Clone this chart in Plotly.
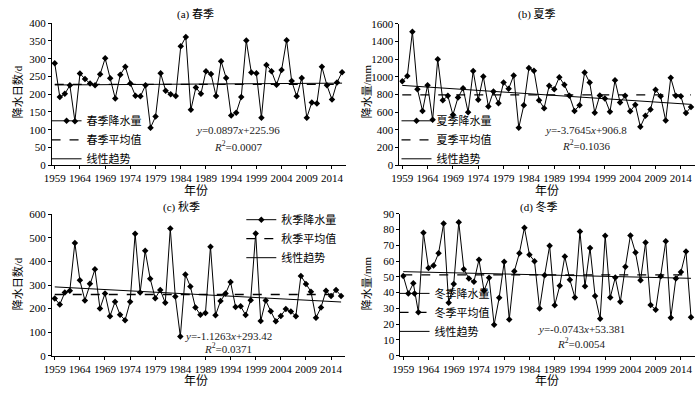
import numpy as np
import plotly.graph_objects as go

years = list(range(1959, 2017))
spring = [287,192,201,225,124,258,243,230,225,256,301,245,188,255,277,230,196,194,225,106,
          137,259,210,200,195,335,361,156,219,201,265,257,195,293,246,140,148,192,351,261,
          259,134,282,265,227,268,352,237,194,246,134,177,174,277,225,185,233,262]
summer = [950,1010,1510,860,614,905,515,1200,735,785,570,765,870,600,1065,740,1005,665,835,700,
          935,865,1015,425,680,1100,1070,735,645,900,860,995,910,785,615,680,1050,935,595,790,
          755,605,960,710,785,610,685,435,560,630,855,780,505,990,785,780,590,660]
autumn = [243,218,268,276,479,320,235,306,367,200,264,168,229,174,151,229,518,268,446,327,
          244,279,225,540,251,82,345,294,205,174,181,463,172,232,264,313,207,210,173,236,
          519,147,235,189,146,169,198,188,168,339,305,272,161,205,276,254,279,254]
winter = [50.6,39.4,45.9,27.5,77.9,55.6,57.2,65,83.8,33.6,45.5,84.7,54.9,49,46.9,60.9,41.2,49.4,19.7,36.7,
          59.5,23,53.5,65,81.2,64,59.9,29.9,51,69.7,32,44.3,62.9,48.2,36.9,78.7,44.1,68.3,37.9,23.4,
          76.1,36.9,49.6,34.2,56.4,76.3,65.4,47.8,71.8,32.2,29.1,50.4,72.6,24,49,53.1,66,24.4]

season_names = ["春季", "夏季", "秋季", "冬季"]
panel_titles = ["(a) 春季", "(b) 夏季", "(c) 秋季", "(d) 冬季"]
slopes = [0.0897, -3.7645, -1.1263, -0.0743]
intercepts = [225.96, 906.8, 293.42, 53.381]
eq_texts = ["<i>y</i>=0.0897<i>x</i>+225.96", "<i>y</i>=-3.7645<i>x</i>+906.8",
            "<i>y</i>=-1.1263<i>x</i>+293.42", "<i>y</i>=-0.0743<i>x</i>+53.381"]
r2_texts = ["<i>R</i><sup>2</sup>=0.0007", "<i>R</i><sup>2</sup>=0.1036",
            "<i>R</i><sup>2</sup>=0.0371", "<i>R</i><sup>2</sup>=0.0054"]
y_titles = ["降水日数/d", "降水量/mm", "降水日数/d", "降水量/mm"]
y_ranges = [[0, 400], [0, 1600], [0, 600], [0, 90]]
y_dticks = [50, 200, 100, 10]
x_ticks = list(range(1959, 2015, 5))

series = [spring, summer, autumn, winter]

W, H = 700, 394
def px(x): return x / W
def py(y): return 1 - y / H

FONT = "Liberation Serif, Noto Sans CJK SC, serif"

# panel geometry in pixel coords (left, right, top, bottom)
boxes = [(44.5, 342, 17.7, 164.3), (396, 695, 18.3, 164.3),
         (44.5, 341, 215, 360.7), (397, 695, 214.3, 360.7)]
legend_pos = [(39, 138), (393, 138), (236, 240), (391, 316)]
eq_pos = [(233, 128, 144), (585, 128, 143), (223, 340, 353), (580, 333, 348)]
title_pos = [(190, 9), (535, 9), (175, 207), (537, 207)]
ytitle_pos = [(9, 88), (362, 88), (9, 286), (362, 286)]
xtitle_pos = [(190, 191), (545, 191), (190, 387), (545, 387)]

fig = go.Figure()
annotations = []
layout_axes = {}

def ann(x, y, text, size=11, angle=0, color="black"):
    return dict(x=px(x), y=py(y), xref="paper", yref="paper", text=text, textangle=angle,
                xanchor="center", yanchor="middle", showarrow=False,
                font=dict(family=FONT, size=size, color=color))

for k in range(4):
    vals = series[k]
    name = season_names[k]
    idx = np.arange(1, len(years) + 1)
    trend = slopes[k] * idx + intercepts[k]
    mean = float(np.mean(vals))
    xa = "x" if k == 0 else f"x{k+1}"
    ya = "y" if k == 0 else f"y{k+1}"
    lg = "legend" if k == 0 else f"legend{k+1}"
    fig.add_trace(go.Scatter(x=years, y=vals, mode="lines+markers", name=name + "降水量",
                             line=dict(color="black", width=1),
                             marker=dict(symbol="diamond", size=5, color="black"),
                             xaxis=xa, yaxis=ya, legend=lg))
    fig.add_trace(go.Scatter(x=years, y=[mean] * len(years), mode="lines",
                             name=name + "平均值",
                             line=dict(color="black", width=1.3, dash="dash"),
                             xaxis=xa, yaxis=ya, legend=lg))
    fig.add_trace(go.Scatter(x=years, y=trend, mode="lines", name="线性趋势",
                             line=dict(color="black", width=1),
                             xaxis=xa, yaxis=ya, legend=lg))
    l, r, t, b = boxes[k]
    xk = "xaxis" if k == 0 else f"xaxis{k+1}"
    yk = "yaxis" if k == 0 else f"yaxis{k+1}"
    layout_axes[xk] = dict(domain=[px(l), px(r)], range=[1958.45, 2016.8], anchor=ya,
                           tickvals=x_ticks, ticktext=[str(v) for v in x_ticks],
                           showline=True, linecolor="black", linewidth=1,
                           ticks="outside", ticklen=3, tickcolor="black",
                           showgrid=False, zeroline=False,
                           tickfont=dict(family=FONT, size=11, color="black"))
    layout_axes[yk] = dict(domain=[py(b), py(t)], range=y_ranges[k], dtick=y_dticks[k], anchor=xa,
                           showline=True, linecolor="black", linewidth=1,
                           ticks="outside", ticklen=3, tickcolor="black",
                           showgrid=False, zeroline=False,
                           tickfont=dict(family=FONT, size=11, color="black"))
    lx, ly = legend_pos[k]
    layout_axes[lg] = dict(x=px(lx), y=py(ly), xanchor="left", yanchor="middle",
                           bgcolor="rgba(0,0,0,0)", font=dict(family=FONT, size=11, color="black"),
                           itemwidth=30, tracegroupgap=0)
    ex, ey1, ey2 = eq_pos[k]
    annotations.append(ann(ex, ey1, eq_texts[k], color="#222"))
    annotations.append(ann(ex, ey2, r2_texts[k], color="#222"))
    tx, ty = title_pos[k]
    annotations.append(ann(tx, ty, panel_titles[k]))
    yx, yy = ytitle_pos[k]
    annotations.append(ann(yx, yy, y_titles[k], angle=-90))
    xx, xy = xtitle_pos[k]
    annotations.append(ann(xx, xy, "年份", size=12))

fig.update_layout(width=W, height=H, margin=dict(l=0, r=0, t=0, b=0),
                  paper_bgcolor="white", plot_bgcolor="white",
                  annotations=annotations, **layout_axes)
fig.write_html("out.html", config={"displayModeBar": False},
               post_script="document.body.style.margin='0';")
